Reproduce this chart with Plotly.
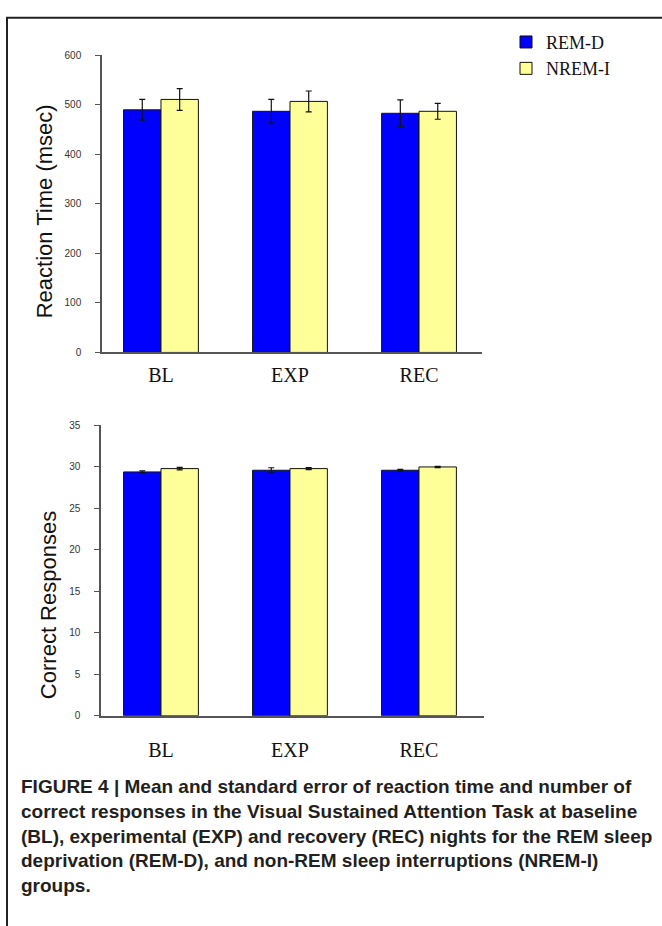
import plotly.graph_objects as go

W, H = 662, 926

categories = ["BL", "EXP", "REC"]
series_names = ["REM-D", "NREM-I"]

rt_remd = [490, 487, 483]
rt_remd_err = [21, 24, 27]
rt_nremi = [511, 507, 487]
rt_nremi_err = [22, 21, 16]

cr_remd = [29.4, 29.6, 29.6]
cr_remd_err = [0.12, 0.3, 0.1]
cr_nremi = [29.8, 29.8, 30.0]
cr_nremi_err = [0.15, 0.12, 0.08]

rt_ticks = [0, 100, 200, 300, 400, 500, 600]
cr_ticks = [0, 5, 10, 15, 20, 25, 30, 35]

caption_lines = [
    "FIGURE 4 | Mean and standard error of reaction time and number of",
    "correct responses in the Visual Sustained Attention Task at baseline",
    "(BL), experimental (EXP) and recovery (REC) nights for the REM sleep",
    "deprivation (REM-D), and non-REM sleep interruptions (NREM-I)",
    "groups.",
]

colors = ["#0000FF", "#FFFF99"]


def px(x):
    return x / W


def py(y):
    return 1 - y / H


fig = go.Figure()

for i, (vals, errs) in enumerate([(rt_remd, rt_remd_err), (rt_nremi, rt_nremi_err)]):
    fig.add_trace(go.Bar(
        x=categories, y=vals, name=series_names[i],
        marker=dict(color=colors[i], line=dict(color="#111", width=1)),
        error_y=dict(type="data", array=errs, visible=True, color="#111",
                     thickness=1.2, width=3),
        xaxis="x", yaxis="y", showlegend=True,
    ))

for i, (vals, errs) in enumerate([(cr_remd, cr_remd_err), (cr_nremi, cr_nremi_err)]):
    fig.add_trace(go.Bar(
        x=categories, y=vals, name=series_names[i],
        marker=dict(color=colors[i], line=dict(color="#111", width=1)),
        error_y=dict(type="data", array=errs, visible=True, color="#111",
                     thickness=1.2, width=3),
        xaxis="x2", yaxis="y2", showlegend=False,
    ))

xcommon = dict(
    type="category", showgrid=False, zeroline=False, showline=True,
    linecolor="#555", linewidth=1.5, ticks="",
    tickfont=dict(family="Liberation Serif", size=20, color="#111"),
)
ycommon = dict(
    showgrid=False, zeroline=False, showline=True, linecolor="#555",
    linewidth=1.5, ticks="outside", ticklen=5, tickcolor="#555",
    tickwidth=1.2, ticklabelstandoff=12,
    tickfont=dict(family="Liberation Sans", size=10, color="#333"),
)

fig.update_layout(
    width=W, height=H,
    margin=dict(l=0, r=0, t=0, b=0),
    paper_bgcolor="white", plot_bgcolor="white",
    barmode="group", bargap=0.42, bargroupgap=0,
    showlegend=True,
    legend=dict(
        x=px(506), y=py(18), xanchor="left", yanchor="top",
        font=dict(family="Liberation Serif", size=18, color="#111"),
        bgcolor="rgba(0,0,0,0)",
    ),
    xaxis=dict(xcommon, domain=[px(102), px(482)], range=[-0.457, 2.488],
               anchor="y", ticklabelstandoff=4),
    yaxis=dict(ycommon, domain=[py(351), py(50)], range=[0, 600],
               tickvals=rt_ticks, anchor="x"),
    xaxis2=dict(xcommon, domain=[px(101), px(484)], range=[-0.465, 2.504],
                anchor="y2", ticklabelstandoff=16),
    yaxis2=dict(ycommon, domain=[py(719), py(425)], range=[0, 35],
                tickvals=cr_ticks, anchor="x2"),
)

annotations = [
    dict(text="Reaction Time (msec)", x=px(44), y=py(208), xref="paper",
         yref="paper", xanchor="center", yanchor="middle", textangle=-90,
         showarrow=False,
         font=dict(family="Liberation Sans", size=22, color="#111")),
    dict(text="Correct Responses", x=px(48), y=py(607), xref="paper",
         yref="paper", xanchor="center", yanchor="middle", textangle=-90,
         showarrow=False,
         font=dict(family="Liberation Sans", size=22, color="#111")),
]
for k, line in enumerate(caption_lines):
    annotations.append(dict(
        text=f"<b>{line}</b>", x=px(19), y=py(791 + 25 * k), xref="paper",
        yref="paper", xanchor="left", yanchor="middle", showarrow=False,
        font=dict(family="Liberation Sans", size=19, color="#231f20"),
    ))
fig.update_layout(annotations=annotations)

fig.add_shape(type="rect", xref="paper", yref="paper",
              x0=px(7), x1=px(680), y0=py(960), y1=py(12),
              line=dict(color="#222", width=2), fillcolor="rgba(0,0,0,0)")

fig.write_html("out.html", config={"displayModeBar": False},
               post_script="document.body.style.margin='0';")
